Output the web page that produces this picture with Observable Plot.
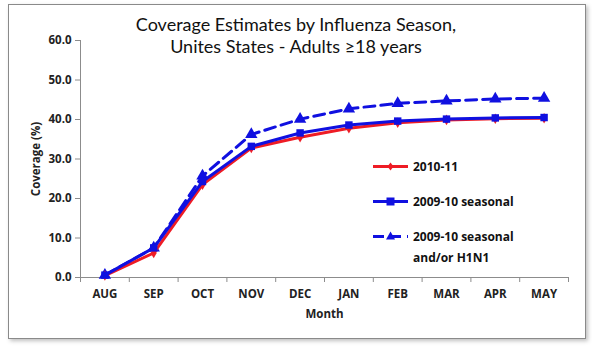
<!DOCTYPE html>
<html><head><meta charset="utf-8">
<script src="https://cdn.jsdelivr.net/npm/d3@7"></script>
<script src="https://cdn.jsdelivr.net/npm/@observablehq/plot@0.6"></script>
<style>
html,body{margin:0;padding:0;background:#fff;}
#wrap{position:relative;width:592px;height:352px;overflow:hidden;font-family:"Open Sans",sans-serif;}
#frame{position:absolute;left:8px;top:4px;width:576px;height:333px;border:1px solid #8a8a8a;box-shadow:2px 2px 4px rgba(0,0,0,0.25);background:#fff;}
.tl{position:absolute;left:0;width:592px;text-align:center;font-size:18px;line-height:22px;height:22px;color:#111;font-family:"Lato",sans-serif;}
#chart{position:absolute;left:0;top:0;}
#legend{position:absolute;left:373px;top:0;font-family:"Open Sans",sans-serif;font-weight:bold;font-size:12px;color:#111;}
.li{position:absolute;left:0;white-space:nowrap;}
.li svg{position:absolute;left:0;top:0;}
.li span{position:absolute;left:40px;line-height:21px;}
</style></head>
<body>
<div id="wrap">
<div id="frame"></div>
<div id="chart"></div>
<div class="tl" style="top:13px">Coverage Estimates by Influenza Season,</div>
<div class="tl" style="top:35px">Unites States - Adults ≥18 years</div>
<div id="legend"></div>
</div>
<script>
const months = ["AUG","SEP","OCT","NOV","DEC","JAN","FEB","MAR","APR","MAY"];
const s2010 = [0.5, 6.2, 23.5, 32.8, 35.5, 37.8, 39.2, 39.9, 40.2, 40.3];
const s2009 = [0.6, 7.5, 24.3, 33.2, 36.6, 38.6, 39.6, 40.1, 40.4, 40.5];
const sH1N1 = [0.6, 7.5, 25.7, 36.2, 40.1, 42.7, 44.1, 44.7, 45.2, 45.4];
const yTicks = [0, 10, 20, 30, 40, 50, 60];
const seriesNames = ["2010-11", "2009-10 seasonal", "2009-10 seasonal and/or H1N1"];

const rows = (vals, name) => vals.map((v, i) => ({i, month: months[i], v, name}));
const dR = rows(s2010, seriesNames[0]);
const dB = rows(s2009, seriesNames[1]);
const dH = rows(sH1N1, seriesNames[2]);
const idx = months.map((m, i) => i);
const bounds = d3.range(-0.5, months.length, 1);

const RED = "#ee1c25", BLUE = "#1010e0";

const plot = Plot.plot({
  width: 592, height: 352,
  marginLeft: 80, marginRight: 24, marginTop: 40, marginBottom: 75,
  style: {background: "transparent", fontFamily: "Open Sans, sans-serif"},
  x: {type: "linear", domain: [-0.5, months.length - 0.5]},
  y: {domain: [0, 60]},
  marks: [
    Plot.ruleY([0], {stroke: "#8c8c8c", strokeWidth: 1}),
    Plot.ruleX([-0.5], {stroke: "#8c8c8c", strokeWidth: 1}),
    Plot.axisY({ticks: yTicks, tickFormat: d => d.toFixed(1), tickSize: 5, tickPadding: 4, stroke: "#8c8c8c", fill: "#222", fontWeight: "bold", fontSize: 11.5, label: null}),
    Plot.axisX({ticks: bounds, tickFormat: () => "", tickSize: 5, stroke: "#8c8c8c", label: null}),
    Plot.axisX({ticks: idx, tickFormat: i => months[i], tickSize: 0, tickPadding: 12, fill: "#222", fontWeight: "bold", fontSize: 11.5, label: null}),
    Plot.text(["Month"], {frameAnchor: "bottom", dy: 40, fontWeight: "bold", fontSize: 11.5, fill: "#222"}),
    Plot.text(["Coverage (%)"], {frameAnchor: "left", textAnchor: "middle", dx: -44, rotate: -90, fontWeight: "bold", fontSize: 11.5, fill: "#222", letterSpacing: "0.5px"}),
    Plot.line(dH, {x: "i", y: "v", stroke: BLUE, strokeWidth: 3, strokeDasharray: "11,6"}),
    Plot.dot(dH, {x: "i", y: "v", symbol: "triangle", r: 4.6, fill: BLUE, stroke: "none"}),
    Plot.line(dR, {x: "i", y: "v", stroke: RED, strokeWidth: 3}),
    Plot.dot(dR, {x: "i", y: "v", symbol: "diamond", r: 3.2, fill: RED, stroke: "none"}),
    Plot.line(dB, {x: "i", y: "v", stroke: BLUE, strokeWidth: 3}),
    Plot.dot(dB, {x: "i", y: "v", symbol: "square", r: 4.2, fill: BLUE, stroke: "none"})
  ]
});
document.getElementById("chart").appendChild(plot);

// legend
const legendItems = [
  {label: seriesNames[0], html: "2010-11", color: RED, dash: null, sym: "diamond", top: 156},
  {label: seriesNames[1], html: "2009-10 seasonal", color: BLUE, dash: null, sym: "square", top: 191},
  {label: seriesNames[2], html: "2009-10 seasonal<br>and/or H1N1", color: BLUE, dash: "11,6", sym: "triangle", top: 226}
];
const leg = document.getElementById("legend");
for (const it of legendItems) {
  const div = document.createElement("div");
  div.className = "li";
  div.style.top = it.top + "px";
  let symSvg = "";
  if (it.sym === "diamond") symSvg = `<path d="M17.5,6.5 L20.5,10.5 L17.5,14.5 L14.5,10.5Z" fill="${it.color}"/>`;
  if (it.sym === "square") symSvg = `<rect x="13.5" y="6.5" width="8" height="8" fill="${it.color}"/>`;
  if (it.sym === "triangle") symSvg = `<path d="M17.5,5.5 L22,13.5 L13,13.5Z" fill="${it.color}"/>`;
  div.innerHTML = `<svg width="36" height="21"><line x1="0" x2="35" y1="10.5" y2="10.5" stroke="${it.color}" stroke-width="3" ${it.dash ? `stroke-dasharray="${it.dash}"` : ""}/>${symSvg}</svg><span>${it.html}</span>`;
  leg.appendChild(div);
}
</script>
</body></html>
